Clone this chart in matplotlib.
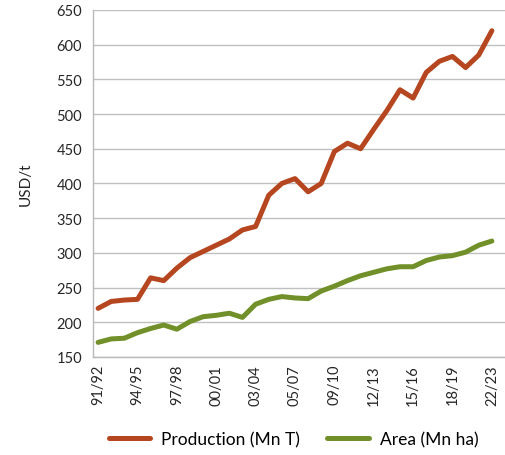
import matplotlib
matplotlib.use("Agg")
import matplotlib.pyplot as plt

plt.rcParams['font.family'] = ['Lato', 'DejaVu Sans']

seasons = [f"{y % 100:02d}/{(y + 1) % 100:02d}" for y in range(1991, 2022)]
production = [220, 230, 232, 233, 264, 260, 278, 293, 302, 311, 320, 333, 338,
              383, 400, 407, 388, 400, 446, 458, 450, 478, 505, 535, 523, 560,
              576, 583, 567, 585, 620]
area = [171, 176, 177, 185, 191, 196, 190, 201, 208, 210, 213, 207, 226,
        233, 237, 235, 234, 245, 252, 260, 267, 272, 277, 280, 280, 289,
        294, 296, 301, 311, 317]
tick_positions = list(range(0, 31, 3))
tick_labels = ['91/92', '94/95', '97/98', '00/01', '03/04', '05/07', '09/10',
               '12/13', '15/16', '18/19', '22/23']
yticks = list(range(150, 651, 50))

fig = plt.figure(figsize=(5.06, 4.56), dpi=100)
ax = fig.add_axes([0.184, 0.215, 0.814, 0.761])

x = list(range(len(seasons)))
ax.plot(x, production, color='#B5461F', lw=3.6, solid_capstyle='round',
        solid_joinstyle='round', label='Production (Mn T)', zorder=3)
ax.plot(x, area, color='#71902A', lw=3.6, solid_capstyle='round',
        solid_joinstyle='round', label='Area (Mn ha)', zorder=3)

ax.set_ylim(150, 650)
ax.set_xlim(-0.38, 31.0)
ax.set_yticks(yticks)
ax.set_xticks(tick_positions)
ax.set_xticklabels(tick_labels, rotation=90, fontsize=10.5, color='#262626')
ax.tick_params(axis='y', labelsize=10.5, labelcolor='#262626', length=0, pad=8)
ax.tick_params(axis='x', length=0, pad=5)
ax.grid(axis='y', color='#C0C0C0', lw=1)
ax.set_axisbelow(True)
for s in ['top', 'right']:
    ax.spines[s].set_visible(False)
for s in ['left', 'bottom']:
    ax.spines[s].set_color('#B8B8B8')
    ax.spines[s].set_linewidth(1)
ax.set_ylabel('USD/t', fontsize=11, color='#262626', labelpad=17)

fig.legend(loc='center', bbox_to_anchor=(0.58, 0.035), ncol=2, frameon=False,
           fontsize=12.5, handlelength=2.4, columnspacing=1.6, handletextpad=0.6)

fig.savefig('out.png', dpi=100)
